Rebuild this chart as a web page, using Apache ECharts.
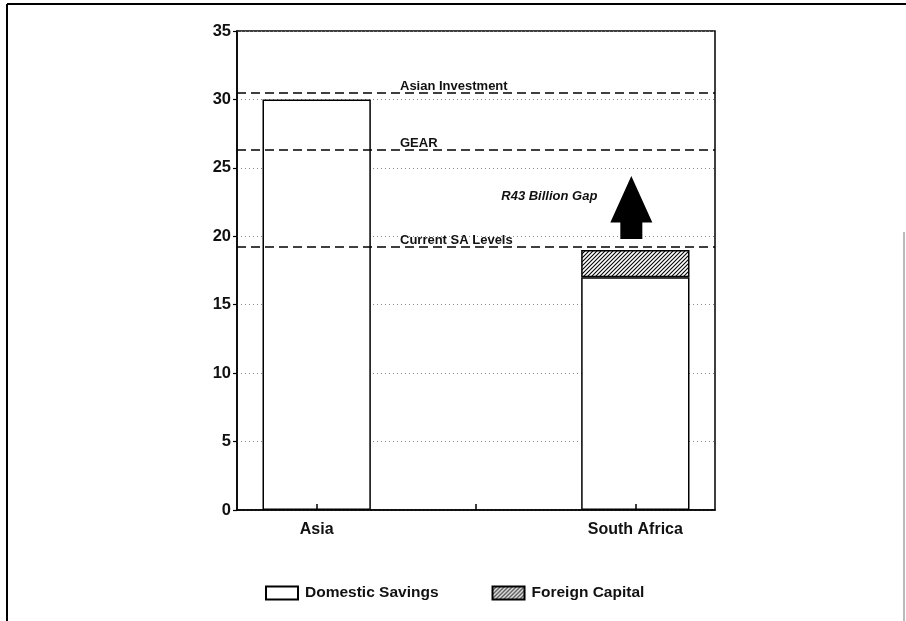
<!DOCTYPE html>
<html><head><meta charset="utf-8">
<script src="https://cdn.jsdelivr.net/npm/echarts@6/dist/echarts.min.js"></script>
<style>html,body{margin:0;padding:0;background:#fff}#c{width:906px;height:621px}</style>
</head><body><div id="c"></div>
<script>
const categories = ['Asia', '', 'South Africa'];
const domesticSavings = [30, null, 17];
const foreignCapital = [null, null, 2];
const refNames = ['Asian Investment', 'GEAR', 'Current SA Levels'];
const refValues = [30.5, 26.3, 19.2];
const gapLabel = 'R43 Billion Gap';
const gapArrow = [[2, 19.8, 21.0, 24.4, 22.9]]; // category index, base, head start, tip, label level
const yMin = 0, yMax = 35, yStep = 5;

const font = '"Liberation Sans", Arial, sans-serif';

// hatch pattern
const pc = document.createElement('canvas');
pc.width = 4; pc.height = 4;
const g = pc.getContext('2d');
g.fillStyle = '#fff'; g.fillRect(0, 0, 4, 4);
g.strokeStyle = '#000'; g.lineWidth = 1.1;
g.beginPath(); g.moveTo(-1, 5); g.lineTo(5, -1); g.stroke();
g.beginPath(); g.moveTo(-1, 1); g.lineTo(1, -1); g.stroke();
g.beginPath(); g.moveTo(3, 5); g.lineTo(5, 3); g.stroke();

const chart = echarts.init(document.getElementById('c'), null, {renderer: 'canvas'});
chart.setOption({
  animation: false,
  backgroundColor: '#fff',
  grid: {left: 237, right: 191, top: 31, bottom: 111, show: true, borderColor: '#000', borderWidth: 1.5, backgroundColor: 'transparent'},
  legend: {
    left: 260, top: 580, itemWidth: 32, itemHeight: 13, itemGap: 53,
    icon: 'rect',
    textStyle: {fontFamily: font, fontWeight: 'bold', fontSize: 15.5, color: '#111', padding: [0, 0, 0, 2]},
    data: ['Domestic Savings', 'Foreign Capital']
  },
  xAxis: {
    type: 'category', data: categories, z: 5,
    axisLine: {lineStyle: {color: '#000', width: 1.5}},
    axisTick: {show: true, alignWithLabel: true, inside: true, length: 6, lineStyle: {color: '#000', width: 1.5}},
    axisLabel: {fontFamily: font, fontWeight: 'bold', fontSize: 16, color: '#111', margin: 12},
    splitLine: {show: false}
  },
  yAxis: {
    type: 'value', min: yMin, max: yMax, interval: yStep,
    axisLine: {show: true, lineStyle: {color: '#000', width: 1.5}},
    axisTick: {show: true, length: 4, lineStyle: {color: '#000', width: 1.2}},
    axisLabel: {fontFamily: font, fontWeight: 'bold', fontSize: 16.5, color: '#111', margin: 6},
    splitLine: {show: true, lineStyle: {color: '#888', type: [1, 3], width: 1}}
  },
  series: [
    {
      name: 'Domestic Savings', type: 'bar', stack: 's', barWidth: '68%',
      data: domesticSavings,
      itemStyle: {color: '#fff', borderColor: '#000', borderWidth: 1.5},
      markLine: {
        silent: true, symbol: 'none', z: 10,
        lineStyle: {color: '#000', type: [9, 5], width: 1.5},
        label: {
          position: 'insideStartTop', distance: [163, 0],
          fontFamily: font, fontWeight: 'bold', fontSize: 13, color: '#111',
          formatter: p => p.name
        },
        data: refNames.map((n, i) => ({name: n, yAxis: refValues[i]}))
      }
    },
    {
      name: 'Foreign Capital', type: 'bar', stack: 's', barWidth: '68%',
      data: foreignCapital,
      itemStyle: {color: {image: pc, repeat: 'repeat'}, borderColor: '#000', borderWidth: 1.5}
    },
    {
      type: 'custom', z: 20, silent: true,
      data: gapArrow,
      renderItem: function (params, api) {
        const base = api.coord([api.value(0), api.value(1)]);
        const head = api.coord([api.value(0), api.value(2)]);
        const tip = api.coord([api.value(0), api.value(3)]);
        const lab = api.coord([api.value(0), api.value(4)]);
        const x = base[0] - 4;
        const sw = 11, hw = 21;
        return {
          type: 'group',
          children: [
            {type: 'polygon', shape: {points: [
              [x - sw, base[1]], [x + sw, base[1]], [x + sw, head[1]], [x + hw, head[1]],
              [x, tip[1]], [x - hw, head[1]], [x - sw, head[1]]
            ]}, style: {fill: '#000'}},
            {type: 'text', x: x - 34, y: lab[1], style: {
              text: gapLabel, align: 'right', verticalAlign: 'middle',
              font: 'italic bold 13px "Liberation Sans", Arial, sans-serif', fill: '#111'
            }}
          ]
        };
      }
    }
  ],
  graphic: [
    {type: 'line', shape: {x1: 7, y1: 4, x2: 906, y2: 4}, style: {stroke: '#000', lineWidth: 2}},
    {type: 'line', shape: {x1: 7, y1: 4, x2: 7, y2: 621}, style: {stroke: '#000', lineWidth: 2}},
    {type: 'line', shape: {x1: 904, y1: 232, x2: 904, y2: 621}, style: {stroke: '#777', lineWidth: 1}}
  ]
});
</script></body></html>
